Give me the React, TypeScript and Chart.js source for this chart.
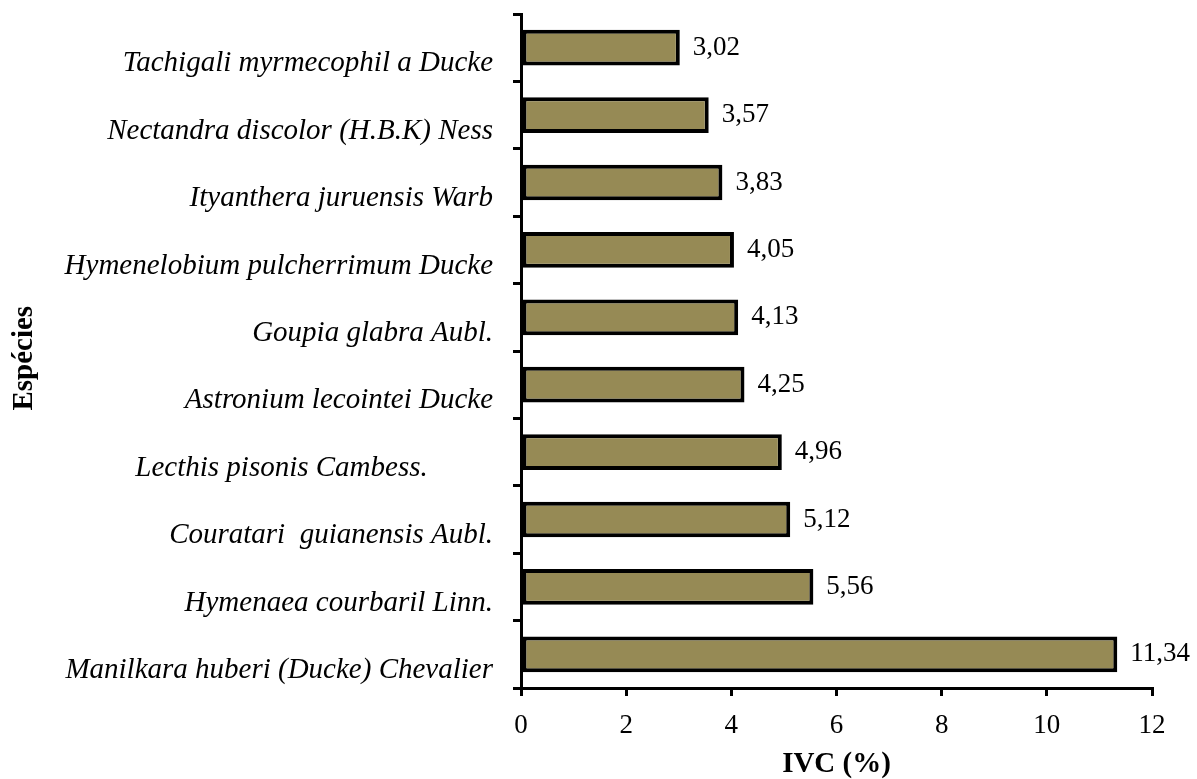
import React, { useEffect, useRef } from "react";
import { Chart, registerables } from "chart.js";

Chart.register(...registerables);

const species: string[] = [
  "Tachigali myrmecophil a Ducke",
  "Nectandra discolor (H.B.K) Ness",
  "Ityanthera juruensis Warb",
  "Hymenelobium pulcherrimum Ducke",
  "Goupia glabra Aubl.",
  "Astronium lecointei Ducke",
  "Lecthis pisonis Cambess.         ",
  "Couratari  guianensis Aubl.",
  "Hymenaea courbaril Linn.",
  "Manilkara huberi (Ducke) Chevalier",
];

const ivcValues: number[] = [3.02, 3.57, 3.83, 4.05, 4.13, 4.25, 4.96, 5.12, 5.56, 11.34];

const xTickMin = 0;
const xTickMax = 12;
const xTickStep = 2;

const xTitle = "IVC (%)";
const yTitle = "Espécies  ";

const FONT = "'Liberation Serif', 'Times New Roman', serif";

const valueLabelPlugin = {
  id: "valueLabels",
  afterDatasetsDraw(chart: any) {
    const ctx = chart.ctx;
    const meta = chart.getDatasetMeta(0);
    ctx.save();
    ctx.font = `27px ${FONT}`;
    ctx.fillStyle = "#000";
    ctx.textAlign = "left";
    ctx.textBaseline = "middle";
    meta.data.forEach((el: any, i: number) => {
      const v = chart.data.datasets[0].data[i] as number;
      ctx.fillText(v.toFixed(2).replace(".", ","), el.x + 13, el.y);
    });
    ctx.restore();
  },
};

export default function App() {
  const canvasRef = useRef<HTMLCanvasElement | null>(null);

  useEffect(() => {
    document.body.style.margin = "0";
    const canvas = canvasRef.current;
    if (!canvas) return;
    const chart = new Chart(canvas, {
      type: "bar",
      data: {
        labels: species,
        datasets: [
          {
            data: ivcValues,
            backgroundColor: "#968a55",
            borderColor: "#000000",
            borderWidth: 4,
            borderSkipped: false,
            barPercentage: 0.53,
            categoryPercentage: 1,
          },
        ],
      },
      options: {
        indexAxis: "y",
        responsive: false,
        animation: false,
        maintainAspectRatio: false,
        layout: { padding: { top: 14, right: 45, left: 0, bottom: 0 } },
        plugins: {
          legend: { display: false },
          tooltip: { enabled: false },
        },
        scales: {
          x: {
            type: "linear",
            min: xTickMin,
            max: xTickMax,
            ticks: {
              stepSize: xTickStep,
              color: "#000",
              font: { family: FONT, size: 27 },
              padding: 14,
            },
            grid: {
              drawOnChartArea: false,
              drawTicks: true,
              tickLength: 8,
              lineWidth: 3,
              color: "#000",
            },
            border: { display: true, color: "#000", width: 3 },
            title: {
              display: true,
              text: xTitle,
              color: "#000",
              font: { family: FONT, size: 29, weight: "bold", lineHeight: 1 },
              padding: { top: 0, bottom: 0 },
            },
            afterFit: (scale: any) => {
              scale.height = 91;
              scale.paddingLeft = 0;
              scale.paddingRight = 0;
            },
          },
          y: {
            type: "category",
            offset: true,
            ticks: {
              color: "#000",
              font: { family: FONT, size: 29, style: "italic" },
              padding: 20,
              labelOffset: 16,
              autoSkip: false,
            },
            grid: {
              offset: true,
              drawOnChartArea: false,
              drawTicks: true,
              tickLength: 8,
              lineWidth: 3,
              color: "#000",
            },
            border: { display: true, color: "#000", width: 3 },
            title: {
              display: true,
              text: yTitle,
              color: "#000",
              font: { family: FONT, size: 29, weight: "bold", lineHeight: 1 },
              padding: { top: 10, bottom: 0 },
            },
            afterFit: (scale: any) => {
              scale.width = 521;
              scale.paddingTop = 0;
              scale.paddingBottom = 0;
            },
          },
        },
      } as any,
      plugins: [valueLabelPlugin],
    });
    return () => chart.destroy();
  }, []);

  return (
    <div style={{ width: 1197, height: 779 }}>
      <canvas ref={canvasRef} width={1197} height={779} style={{ display: "block", width: 1197, height: 779 }} />
    </div>
  );
}
